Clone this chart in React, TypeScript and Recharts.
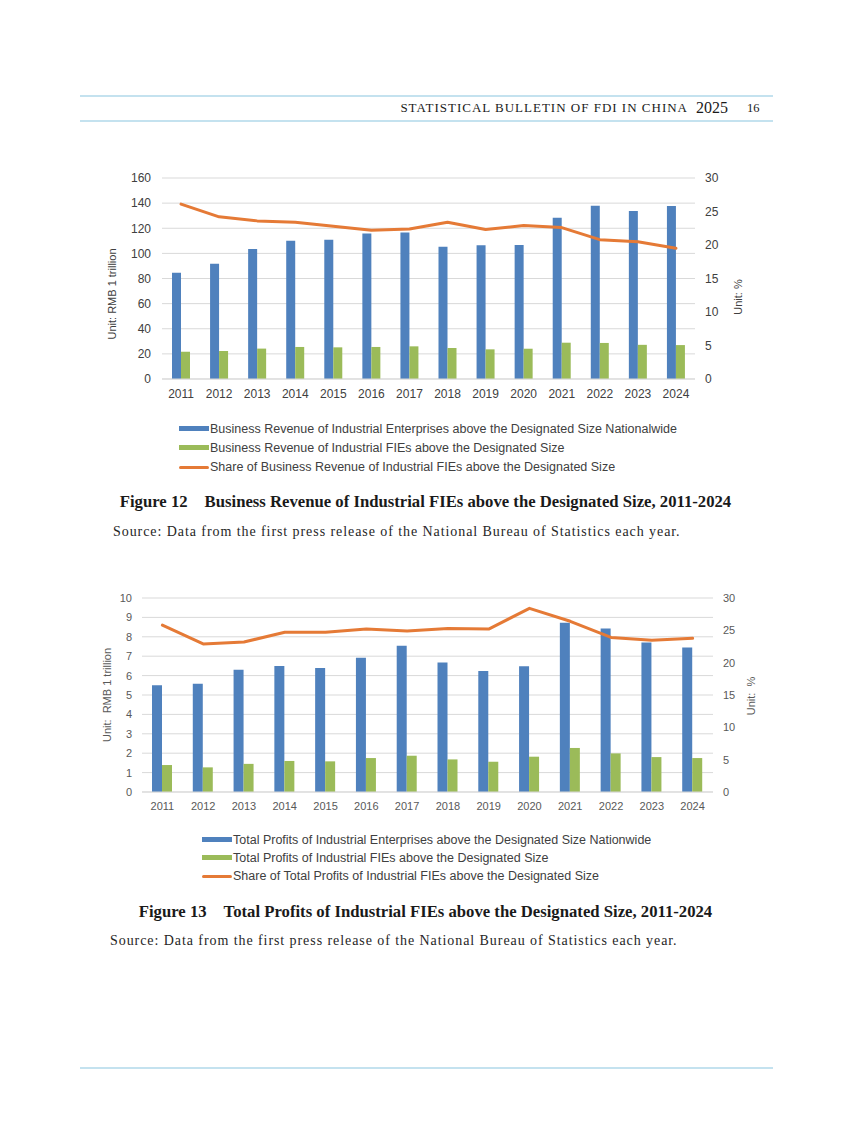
import React from 'react';
import { ComposedChart, Bar, Line, XAxis, YAxis, CartesianGrid, Label } from 'recharts';

const years = ['2011', '2012', '2013', '2014', '2015', '2016', '2017', '2018', '2019', '2020', '2021', '2022', '2023', '2024'];

const revenueNational = [84.6, 91.8, 103.4, 110.0, 110.8, 115.8, 116.7, 105.3, 106.4, 106.6, 128.4, 137.9, 133.7, 137.8];
const revenueFIE = [21.7, 22.3, 24.2, 25.5, 25.2, 25.5, 26.0, 24.7, 23.6, 24.1, 28.9, 28.7, 27.2, 27.0];
const revenueShare = [26.1, 24.2, 23.6, 23.4, 22.8, 22.2, 22.4, 23.4, 22.3, 22.9, 22.6, 20.8, 20.5, 19.5];

const profitNational = [5.5, 5.58, 6.3, 6.5, 6.39, 6.92, 7.54, 6.67, 6.24, 6.48, 8.73, 8.43, 7.7, 7.45];
const profitFIE = [1.39, 1.27, 1.45, 1.6, 1.58, 1.75, 1.87, 1.68, 1.56, 1.82, 2.27, 1.99, 1.8, 1.75];
const profitShare = [25.8, 22.9, 23.2, 24.7, 24.7, 25.2, 24.9, 25.3, 25.2, 28.4, 26.4, 23.9, 23.45, 23.76];

const leftTicks1 = [0, 20, 40, 60, 80, 100, 120, 140, 160];
const leftTicks2 = [0, 1, 2, 3, 4, 5, 6, 7, 8, 9, 10];
const rightTicks = [0, 5, 10, 15, 20, 25, 30];

const legend1 = [
  'Business Revenue of Industrial Enterprises above the Designated Size Nationalwide',
  'Business Revenue of Industrial FIEs above the Designated Size',
  'Share of Business Revenue of Industrial FIEs above the Designated Size',
];
const legend2 = [
  'Total Profits of Industrial Enterprises above the Designated Size Nationwide',
  'Total Profits of Industrial FIEs above the Designated Size',
  'Share of Total Profits of Industrial FIEs above the Designated Size',
];

const BLUE = '#4F81BD';
const GREEN = '#9BBB59';
const ORANGE = '#E57A36';
const GRID = '#D9D9D9';
const SANS = '"Liberation Sans", Arial, sans-serif';
const SERIF = '"Liberation Serif", "Times New Roman", serif';

const data1 = years.map((y, i) => ({ year: y, national: revenueNational[i], fie: revenueFIE[i], share: revenueShare[i] }));
const data2 = years.map((y, i) => ({ year: y, national: profitNational[i], fie: profitFIE[i], share: profitShare[i] }));

const seriesKinds = [
  { color: BLUE, kind: 'bar' },
  { color: GREEN, kind: 'bar' },
  { color: ORANGE, kind: 'line' },
];

function RotLabel({ x, y, text, size, fill }: { x: number; y: number; text: string; size: number; fill: string }) {
  return (
    <text
      x={x}
      y={y}
      transform={`rotate(-90, ${x}, ${y})`}
      textAnchor="middle"
      dominantBaseline="central"
      fontSize={size}
      fill={fill}
      fontFamily={SANS}
    >
      {text}
    </text>
  );
}

function LegendBlock({ left, top, gap, fontSize, labels }: { left: number; top: number; gap: number; fontSize: number; labels: string[] }) {
  return (
    <div style={{ position: 'absolute', left, top, fontFamily: SANS, fontSize, color: '#404040' }}>
      {labels.map((l, i) => (
        <div key={l} style={{ position: 'absolute', left: 0, top: i * gap - 8, height: 16, display: 'flex', alignItems: 'center', whiteSpace: 'nowrap' }}>
          <span
            style={{
              display: 'inline-block',
              width: 30,
              height: seriesKinds[i].kind === 'bar' ? 5 : 3,
              background: seriesKinds[i].color,
              borderRadius: seriesKinds[i].kind === 'bar' ? 0 : 2,
              marginRight: 1,
            }}
          />
          <span>{l}</span>
        </div>
      ))}
    </div>
  );
}

function Chart1() {
  return (
    <div style={{ position: 'absolute', left: 100, top: 160 }}>
      <ComposedChart width={700} height={250} data={data1} margin={{ top: 18, left: 12, right: 55, bottom: 1 }} barGap={0}>
        <CartesianGrid yAxisId="left" vertical={false} stroke={GRID} strokeWidth={1} />
        <XAxis
          dataKey="year"
          interval={0}
          tickLine={false}
          tickSize={0}
          tickMargin={10}
          height={30}
          axisLine={{ stroke: GRID }}
          tick={{ fontSize: 12, fill: '#404040', fontFamily: SANS }}
        />
        <YAxis
          yAxisId="left"
          width={50}
          domain={[0, 160]}
          ticks={leftTicks1}
          interval={0}
          axisLine={false}
          tickLine={false}
          tickSize={0}
          tickMargin={11}
          tick={{ fontSize: 12, fill: '#404040', fontFamily: SANS }}
        >
          <Label content={() => <RotLabel x={12} y={134} text="Unit: RMB 1 trillion" size={11} fill="#404040" />} />
        </YAxis>
        <YAxis
          yAxisId="right"
          orientation="right"
          width={50}
          domain={[0, 30]}
          ticks={rightTicks}
          interval={0}
          axisLine={false}
          tickLine={false}
          tickSize={0}
          tickMargin={10}
          tick={{ fontSize: 12, fill: '#404040', fontFamily: SANS }}
        >
          <Label content={() => <RotLabel x={638} y={137} text="Unit: %" size={11} fill="#404040" />} />
        </YAxis>
        <Bar yAxisId="left" dataKey="national" fill={BLUE} barSize={9} isAnimationActive={false} />
        <Bar yAxisId="left" dataKey="fie" fill={GREEN} barSize={9} isAnimationActive={false} />
        <Line yAxisId="right" dataKey="share" type="linear" stroke={ORANGE} strokeWidth={3} dot={false} strokeLinejoin="round" strokeLinecap="round" isAnimationActive={false} />
      </ComposedChart>
    </div>
  );
}

function Chart2() {
  return (
    <div style={{ position: 'absolute', left: 80, top: 580 }}>
      <ComposedChart width={720} height={250} data={data2} margin={{ top: 18, left: 12, right: 37, bottom: 8 }} barGap={0}>
        <CartesianGrid yAxisId="left" vertical={false} stroke={GRID} strokeWidth={1} />
        <XAxis
          dataKey="year"
          interval={0}
          tickLine={false}
          tickSize={0}
          tickMargin={10}
          height={30}
          axisLine={{ stroke: GRID }}
          tick={{ fontSize: 11, fill: '#595959', fontFamily: SANS }}
        />
        <YAxis
          yAxisId="left"
          width={50}
          domain={[0, 10]}
          ticks={leftTicks2}
          interval={0}
          axisLine={false}
          tickLine={false}
          tickSize={0}
          tickMargin={10}
          tick={{ fontSize: 11, fill: '#595959', fontFamily: SANS }}
        >
          <Label content={() => <RotLabel x={27} y={115} text={'Unit:\u00a0 RMB 1 trillion'} size={11} fill="#595959" />} />
        </YAxis>
        <YAxis
          yAxisId="right"
          orientation="right"
          width={50}
          domain={[0, 30]}
          ticks={rightTicks}
          interval={0}
          axisLine={false}
          tickLine={false}
          tickSize={0}
          tickMargin={10}
          tick={{ fontSize: 11, fill: '#595959', fontFamily: SANS }}
        >
          <Label content={() => <RotLabel x={671} y={116} text={'Unit:\u00a0 %'} size={11} fill="#595959" />} />
        </YAxis>
        <Bar yAxisId="left" dataKey="national" fill={BLUE} barSize={10} isAnimationActive={false} />
        <Bar yAxisId="left" dataKey="fie" fill={GREEN} barSize={10} isAnimationActive={false} />
        <Line yAxisId="right" dataKey="share" type="linear" stroke={ORANGE} strokeWidth={3} dot={false} strokeLinejoin="round" strokeLinecap="round" isAnimationActive={false} />
      </ComposedChart>
    </div>
  );
}

function Caption({ cy, num, title }: { cy: number; num: string; title: string }) {
  return (
    <div
      style={{
        position: 'absolute',
        left: 0,
        width: 851,
        top: cy - 10,
        height: 20,
        lineHeight: '20px',
        textAlign: 'center',
        fontFamily: SERIF,
        fontWeight: 'bold',
        fontSize: 16.7,
        color: '#1a1a1a',
        whiteSpace: 'nowrap',
      }}
    >
      <span style={{ marginRight: 17 }}>{num}</span>
      <span>{title}</span>
    </div>
  );
}

function Source({ left, cy }: { left: number; cy: number }) {
  return (
    <div
      style={{
        position: 'absolute',
        left,
        top: cy - 10,
        height: 20,
        lineHeight: '20px',
        fontFamily: SERIF,
        fontSize: 14,
        letterSpacing: 0.93,
        color: '#262626',
        whiteSpace: 'nowrap',
      }}
    >
      Source: Data from the first press release of the National Bureau of Statistics each year.
    </div>
  );
}

export default function App() {
  const lineColor = '#C4E2EF';
  return (
    <div style={{ position: 'absolute', left: 0, top: 0, width: 851, height: 1146, background: '#fff', overflow: 'hidden' }}>
      {/* header */}
      <div style={{ position: 'absolute', left: 80, top: 95, width: 693, height: 2, background: lineColor }} />
      <div style={{ position: 'absolute', left: 80, top: 119.5, width: 693, height: 2, background: lineColor }} />
      <div
        style={{
          position: 'absolute',
          right: 851 - 688,
          top: 98,
          height: 20,
          lineHeight: '20px',
          fontFamily: SERIF,
          fontSize: 13,
          letterSpacing: 1,
          color: '#1a1a1a',
          whiteSpace: 'nowrap',
        }}
      >
        STATISTICAL BULLETIN OF FDI IN CHINA
      </div>
      <div style={{ position: 'absolute', left: 696, top: 98, height: 20, lineHeight: '20px', fontFamily: SERIF, fontSize: 16, color: '#1a1a1a' }}>2025</div>
      <div style={{ position: 'absolute', left: 747, top: 98, height: 20, lineHeight: '20px', fontFamily: SERIF, fontSize: 12.5, color: '#1a1a1a' }}>16</div>

      <Chart1 />
      <LegendBlock left={179} top={428.5} gap={19.3} fontSize={12.5} labels={legend1} />
      <Caption cy={501.5} num="Figure 12" title="Business Revenue of Industrial FIEs above the Designated Size, 2011-2024" />
      <Source left={113} cy={531.5} />

      <Chart2 />
      <LegendBlock left={202} top={839.5} gap={18.3} fontSize={12.5} labels={legend2} />
      <Caption cy={912} num="Figure 13" title="Total Profits of Industrial FIEs above the Designated Size, 2011-2024" />
      <Source left={110} cy={941} />

      <div style={{ position: 'absolute', left: 80, top: 1067, width: 693, height: 2, background: lineColor }} />
    </div>
  );
}
